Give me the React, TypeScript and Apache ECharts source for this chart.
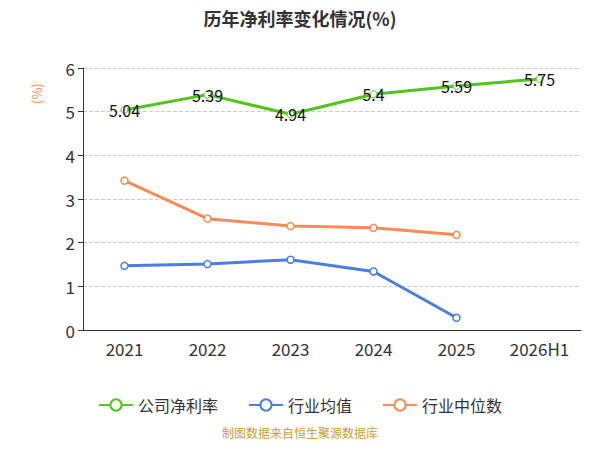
import React, { useEffect, useRef } from "react";
import * as echarts from "echarts";

const years = ["2021", "2022", "2023", "2024", "2025", "2026H1"];
const companyRate = [5.04, 5.39, 4.94, 5.4, 5.59, 5.75];
const industryAvg = [1.47, 1.51, 1.61, 1.34, 0.28];
const industryMedian = [3.42, 2.55, 2.38, 2.34, 2.18];

const App = () => {
  const chartRef = useRef<HTMLDivElement>(null);

  useEffect(() => {
    const chart = echarts.init(chartRef.current, null, { renderer: "svg" });
    const font = "'Noto Sans CJK SC', 'Noto Sans', sans-serif";
    chart.setOption({
      animation: false,
      textStyle: { fontFamily: font },
      title: {
        text: "历年净利率变化情况(%)",
        left: "center",
        top: 4,
        textStyle: { fontSize: 18, fontWeight: "bold", color: "#333" },
      },
      graphic: [
        {
          type: "text",
          left: "center",
          top: 426,
          style: { text: "制图数据来自恒生聚源数据库", fill: "#c9a035", fontSize: 12, fontFamily: font },
        },
        {
          type: "text",
          x: 30,
          y: 104,
          rotation: Math.PI / 2,
          style: { text: "(%)", fill: "#f58a55", fontSize: 13, fontFamily: font },
        },
      ],
      legend: {
        bottom: 32,
        itemWidth: 34,
        itemHeight: 14,
        itemGap: 30,
        textStyle: { fontSize: 16, color: "#333" },
        data: ["公司净利率", "行业均值", "行业中位数"],
      },
      grid: { left: 83, right: 19, top: 68, bottom: 120 },
      xAxis: {
        type: "category",
        data: years,
        axisLine: { lineStyle: { color: "#333" } },
        axisTick: { lineStyle: { color: "#333" } },
        axisLabel: { fontSize: 17, color: "#333", margin: 10 },
      },
      yAxis: {
        type: "value",
        min: 0,
        max: 6,
        interval: 1,
        axisLine: { show: true, lineStyle: { color: "#333" } },
        axisTick: { show: true, lineStyle: { color: "#333" } },
        axisLabel: { fontSize: 17, color: "#333" },
        splitLine: { lineStyle: { type: "dashed", color: "#ccc" } },
      },
      series: [
        {
          name: "公司净利率",
          type: "line",
          data: companyRate,
          color: "#52c41a",
          symbol: "circle",
          symbolSize: 7,
          itemStyle: { color: "#fff", borderColor: "#52c41a", borderWidth: 1 },
          lineStyle: { width: 3, color: "#52c41a" },
          label: { show: true, position: "inside", color: "#111", fontSize: 16 },
        },
        {
          name: "行业均值",
          type: "line",
          data: industryAvg,
          color: "#4a7fe0",
          symbol: "circle",
          symbolSize: 7,
          itemStyle: { color: "#fff", borderColor: "#4a7fe0", borderWidth: 1.5 },
          lineStyle: { width: 3, color: "#4a7fe0" },
        },
        {
          name: "行业中位数",
          type: "line",
          data: industryMedian,
          color: "#fb8a56",
          symbol: "circle",
          symbolSize: 7,
          itemStyle: { color: "#fff", borderColor: "#fb8a56", borderWidth: 1.5 },
          lineStyle: { width: 3, color: "#fb8a56" },
        },
      ],
    });
    return () => chart.dispose();
  }, []);

  return <div ref={chartRef} style={{ width: 600, height: 450, margin: -8 }} />;
};

export default App;
